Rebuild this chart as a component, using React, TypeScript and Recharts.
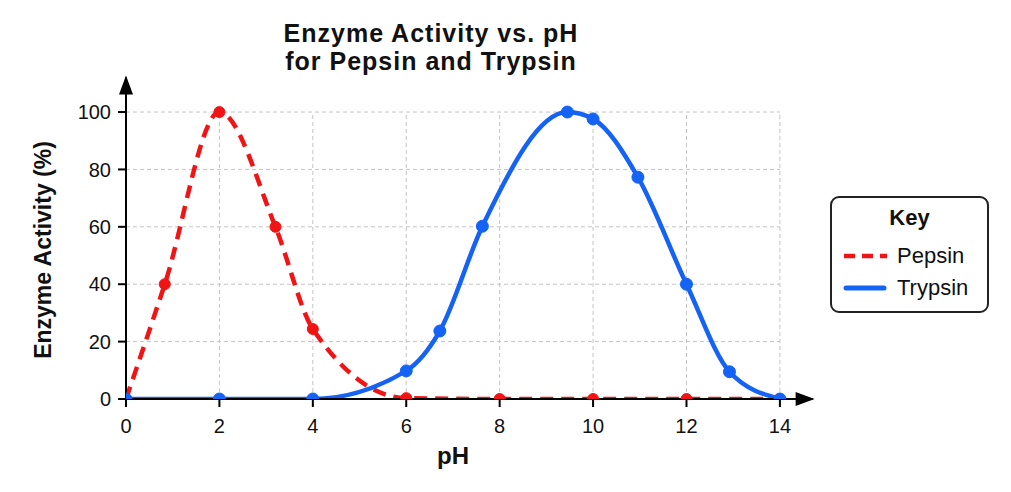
import React from "react";
import {
  LineChart,
  Line,
  XAxis,
  YAxis,
  ReferenceLine,
  ReferenceDot,
} from "recharts";

const RED = "#f21414";
const BLUE = "#1463f5";
const FONT = "'Liberation Sans', Arial, Helvetica, sans-serif";

const titleLines = ["Enzyme Activity vs. pH", "for Pepsin and Trypsin"];
const xTicks = [0, 2, 4, 6, 8, 10, 12, 14];
const yTicks = [0, 20, 40, 60, 80, 100];

const pepsinData = [
  { ph: 0, activity: 0 },
  { ph: 0.83, activity: 40 },
  { ph: 2, activity: 100 },
  { ph: 3.2, activity: 60 },
  { ph: 4, activity: 24.4 },
  { ph: 6, activity: 0.3 },
  { ph: 8, activity: 0 },
  { ph: 10, activity: 0 },
  { ph: 12, activity: 0 },
  { ph: 14, activity: 0 },
];

const trypsinData = [
  { ph: 0, activity: 0 },
  { ph: 2, activity: 0 },
  { ph: 4, activity: 0 },
  { ph: 6, activity: 9.8 },
  { ph: 6.72, activity: 23.7 },
  { ph: 7.63, activity: 60.2 },
  { ph: 9.45, activity: 100 },
  { ph: 10, activity: 97.6 },
  { ph: 10.96, activity: 77.3 },
  { ph: 12, activity: 40 },
  { ph: 12.92, activity: 9.5 },
  { ph: 14, activity: 0 },
];

const X_MAX = 14.7;
const Y_MAX = 112;

const gridColor = "#c4c4c4";

const upArrow = (p: any) => (
  <polygon
    points={`${p.cx},${p.cy - 2} ${p.cx - 7},${p.cy + 17} ${p.cx + 7},${p.cy + 17}`}
    fill="#000"
  />
);
const rightArrow = (p: any) => (
  <polygon
    points={`${p.cx + 2},${p.cy} ${p.cx - 17},${p.cy - 7} ${p.cx - 17},${p.cy + 7}`}
    fill="#000"
  />
);

export default function App() {
  return (
    <div style={{ position: "relative", width: 1000, height: 476, fontFamily: FONT }}>
      {titleLines.map((line, i) => (
        <div
          key={line}
          style={{
            position: "absolute",
            left: 0,
            top: 11 + i * 28,
            width: 846,
            textAlign: "center",
            fontWeight: "bold",
            fontSize: 25,
            lineHeight: "28px",
            color: "#111",
            letterSpacing: 1,
          }}
        >
          {line}
        </div>
      ))}
      <LineChart
        width={1000}
        height={470}
        margin={{ top: 69.6, right: 195.4, left: 58, bottom: 49 }}
        style={{ fontFamily: FONT }}
      >
        {xTicks.slice(1).map((t) => (
          <ReferenceLine
            key={"vx" + t}
            segment={[
              { x: t, y: 0 },
              { x: t, y: 100 },
            ]}
            stroke={gridColor}
            strokeDasharray="4 3"
            strokeWidth={1}
          />
        ))}
        {yTicks.slice(1).map((t) => (
          <ReferenceLine
            key={"hy" + t}
            segment={[
              { x: 0, y: t },
              { x: 14, y: t },
            ]}
            stroke={gridColor}
            strokeDasharray="4 3"
            strokeWidth={1}
          />
        ))}
        <XAxis
          type="number"
          dataKey="ph"
          domain={[0, X_MAX]}
          ticks={xTicks}
          allowDataOverflow
          height={30}
          axisLine={{ stroke: "#000", strokeWidth: 2 }}
          tickLine={{ stroke: "#000", strokeWidth: 2 }}
          tickSize={8}
          tickMargin={12}
          tick={{ fill: "#111", fontSize: 20 }}
        />
        <YAxis
          type="number"
          domain={[0, Y_MAX]}
          ticks={yTicks}
          allowDataOverflow
          width={60}
          axisLine={{ stroke: "#000", strokeWidth: 2 }}
          tickLine={{ stroke: "#000", strokeWidth: 2 }}
          tickSize={8}
          tickMargin={7}
          tick={{ fill: "#111", fontSize: 20 }}
        />
        <Line
          data={pepsinData}
          dataKey="activity"
          type="monotone"
          stroke={RED}
          strokeWidth={4.5}
          strokeDasharray="13 8"
          dot={{ r: 5.5, fill: RED, stroke: RED, strokeWidth: 1, strokeDasharray: "" }}
          isAnimationActive={false}
        />
        <Line
          data={trypsinData}
          dataKey="activity"
          type="monotone"
          stroke={BLUE}
          strokeWidth={4.5}
          dot={{ r: 6, fill: BLUE, stroke: BLUE, strokeWidth: 1 }}
          isAnimationActive={false}
        />
        <ReferenceDot x={0} y={Y_MAX} r={0} ifOverflow="visible" shape={upArrow} />
        <ReferenceDot x={X_MAX} y={0} r={0} ifOverflow="visible" shape={rightArrow} />
      </LineChart>
      <div
        style={{
          position: "absolute",
          left: 35,
          top: 242,
          width: 0,
          height: 0,
        }}
      >
        <div
          style={{
            position: "absolute",
            left: -160,
            top: -14,
            width: 320,
            height: 28,
            textAlign: "center",
            transform: "rotate(-90deg)",
            fontWeight: "bold",
            fontSize: 23,
            lineHeight: "28px",
            color: "#111",
            whiteSpace: "nowrap",
          }}
        >
          Enzyme Activity (%)
        </div>
      </div>
      <div
        style={{
          position: "absolute",
          left: 345,
          top: 434,
          width: 200,
          textAlign: "center",
          fontWeight: "bold",
          fontSize: 24,
          lineHeight: "28px",
          color: "#111",
        }}
      >
        pH
      </div>
      <div
        style={{
          position: "absolute",
          left: 822,
          top: 188,
          width: 155,
          height: 113,
          border: "2px solid #222",
          borderRadius: 9,
          background: "#fff",
          color: "#111",
        }}
      >
        <div
          style={{
            position: "absolute",
            left: 0,
            top: 6,
            width: 155,
            textAlign: "center",
            fontWeight: "bold",
            fontSize: 22,
            lineHeight: "28px",
          }}
        >
          Key
        </div>
        <svg style={{ position: "absolute", left: 11, top: 54 }} width={44} height={8}>
          <line x1={1} y1={4} x2={44} y2={4} stroke={RED} strokeWidth={4.5} strokeDasharray="11 7" />
        </svg>
        <div
          style={{
            position: "absolute",
            left: 65,
            top: 44,
            fontSize: 22,
            lineHeight: "28px",
          }}
        >
          Pepsin
        </div>
        <svg style={{ position: "absolute", left: 11, top: 86 }} width={44} height={8}>
          <line x1={3} y1={4} x2={41} y2={4} stroke={BLUE} strokeWidth={5} strokeLinecap="round" />
        </svg>
        <div
          style={{
            position: "absolute",
            left: 65,
            top: 76,
            fontSize: 22,
            lineHeight: "28px",
          }}
        >
          Trypsin
        </div>
      </div>
    </div>
  );
}
